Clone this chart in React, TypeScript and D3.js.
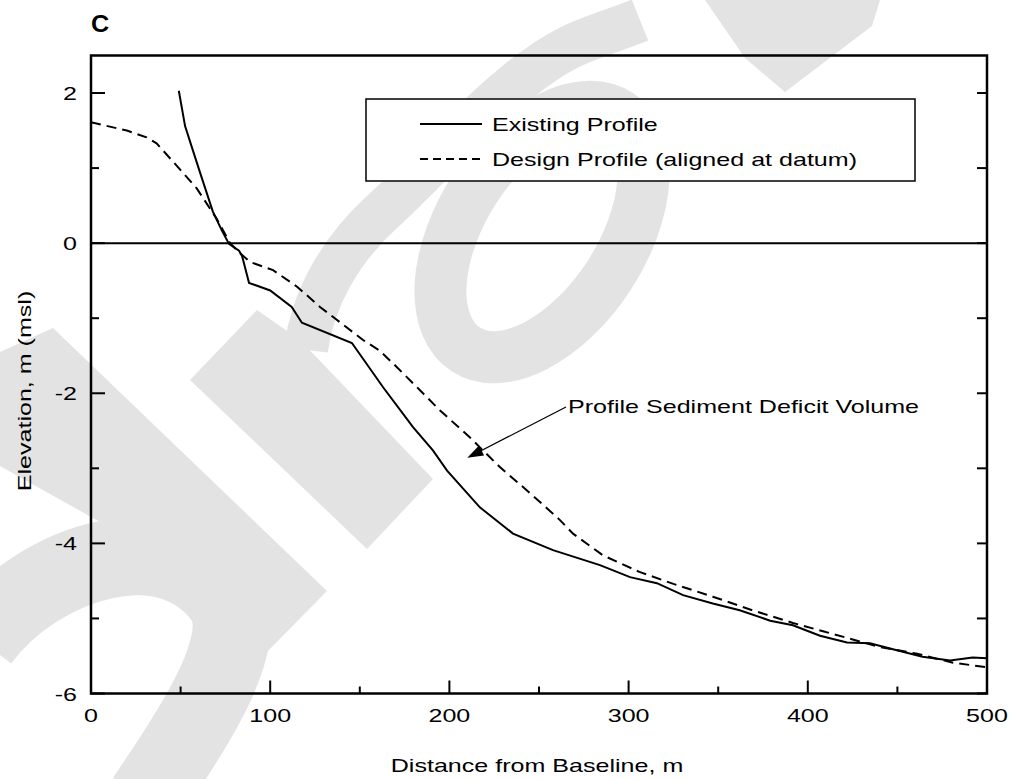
import React from "react";
import * as d3 from "d3";

// ---- data ----
const existingX = [49, 52.5, 56, 61, 68, 73, 77, 82.6, 84.3, 88.2, 100, 112, 117.7, 145.6, 163, 179.7, 190.8, 198.7, 217, 235.5, 257.8, 284, 300.8, 315.8, 330.4, 347, 362, 379, 391.7, 406.8, 421.9, 434.7, 447.5, 464, 479.4, 492, 500];
const existingY = [2.03, 1.56, 1.3, 0.93, 0.42, 0.17, -0.01, -0.1, -0.17, -0.53, -0.63, -0.85, -1.06, -1.33, -1.92, -2.45, -2.76, -3.03, -3.52, -3.87, -4.09, -4.29, -4.45, -4.53, -4.69, -4.8, -4.89, -5.03, -5.09, -5.23, -5.32, -5.33, -5.41, -5.51, -5.56, -5.52, -5.53];
const designX = [0, 20, 31, 36.6, 46, 59, 70, 77.6, 83, 88.7, 101.6, 115, 127.8, 151.8, 161, 170.6, 183.6, 194.8, 211.5, 228, 245, 261.7, 269, 285.7, 306, 325, 347, 369, 391.7, 408.5, 422, 440, 461, 481, 500];
const designY = [1.61, 1.5, 1.41, 1.33, 1.08, 0.73, 0.33, 0, -0.13, -0.25, -0.36, -0.58, -0.85, -1.29, -1.43, -1.65, -1.96, -2.23, -2.59, -2.98, -3.33, -3.69, -3.87, -4.16, -4.38, -4.54, -4.71, -4.89, -5.06, -5.17, -5.26, -5.38, -5.47, -5.59, -5.65];
const xMajorTicks = [0, 100, 200, 300, 400, 500];
const xMinorTicks = [50, 150, 250, 350, 450];
const yMajorTicks = [-6, -4, -2, 0, 2];
const yMinorTicks = [-5, -3, -1, 1];
const seriesLabels = ["Existing Profile", "Design Profile (aligned at datum)"];
const annotationText = "Profile Sediment Deficit Volume";
const annotationPoint = { x: 210, y: -2.86 };
const panelLabel = "C";
const xTitle = "Distance from Baseline, m";
const yTitle = "Elevation, m (msl)";

// decorative watermark (light gray brush strokes)
const watermarkFills = [
  "M0,352 L53,328 L327,591 L258,661 L100,522 L0,466 Z",
  "M190,380 L257,310 L300,340 L433,479 L367,549 Z",
  "M705,0 L880,0 L872,26 L785,92 L745,58 Z",
];
const watermarkStrokes = [
  { d: "M-20,640 C40,560 170,520 225,600 C250,640 200,720 145,800", w: 78 },
  { d: "M306,350 C312,300 340,250 383,211 S470,120 520,80 S590,40 640,20", w: 44 },
];

const FONT = "'Liberation Sans', Arial, Helvetica, sans-serif";
const SX = 1.32;

function T(props: { x: number; y: number; anchor?: string; size?: number; sx?: number; weight?: string | number; rotate?: boolean; children: React.ReactNode }) {
  const { x, y, anchor = "start", size = 19, sx = SX, weight = "normal", rotate = false, children } = props;
  return (
    <text
      transform={`translate(${x},${y})${rotate ? " rotate(-90)" : ""} scale(${sx},1)`}
      textAnchor={anchor}
      fontFamily={FONT}
      fontSize={size}
      fontWeight={weight}
      fill="#000"
    >
      {children}
    </text>
  );
}

export default function App() {
  const W = 1010, H = 779;
  const x = d3.scaleLinear().domain([0, 500]).range([91, 987]);
  const y = d3.scaleLinear().domain([-6, 2.5]).range([693.5, 55.5]);
  const line = d3.line<[number, number]>().x((d) => x(d[0])).y((d) => y(d[1]));
  const existing = existingX.map((v, i) => [v, existingY[i]] as [number, number]);
  const design = designX.map((v, i) => [v, designY[i]] as [number, number]);
  const [x0, x1] = x.range();
  const [yb, yt] = y.range();

  const ax = x(annotationPoint.x), ay = y(annotationPoint.y);
  const tx = 566, ty = 407;
  const ang = Math.atan2(ay - ty, ax - tx);
  const ah = 16, aw = 5.5;
  const head = [
    [ax, ay],
    [ax - ah * Math.cos(ang) + aw * Math.sin(ang), ay - ah * Math.sin(ang) - aw * Math.cos(ang)],
    [ax - ah * Math.cos(ang) - aw * Math.sin(ang), ay - ah * Math.sin(ang) + aw * Math.cos(ang)],
  ];

  return (
    <svg width={W} height={H} style={{ position: "absolute", left: 0, top: 0, background: "#fff" }}>
      <rect x={0} y={0} width={W} height={H} fill="#fff" />
      {/* watermark */}
      <g fill="#e3e3e3" stroke="none">
        {watermarkFills.map((d, i) => <path key={i} d={d} />)}
      </g>
      <g fill="none" stroke="#e3e3e3">
        {watermarkStrokes.map((s, i) => <path key={i} d={s.d} strokeWidth={s.w} />)}
      </g>
      <ellipse cx={542} cy={232} rx={80} ry={140} transform="rotate(33,542,232)" fill="none" stroke="#e3e3e3" strokeWidth={52} />

      {/* zero line */}
      <line x1={x0} x2={x1} y1={y(0)} y2={y(0)} stroke="#000" strokeWidth={2} />

      {/* series */}
      <path d={line(design) || ""} fill="none" stroke="#000" strokeWidth={2} strokeDasharray="10,6" />
      <path d={line(existing) || ""} fill="none" stroke="#000" strokeWidth={2} />

      {/* frame */}
      <rect x={x0} y={yt} width={x1 - x0} height={yb - yt} fill="none" stroke="#000" strokeWidth={2.5} />

      {/* ticks */}
      {xMajorTicks.map((t) => (
        <g key={"xm" + t}>
          <line x1={x(t)} x2={x(t)} y1={yb} y2={yb - 13} stroke="#000" strokeWidth={2} />
          <T x={x(t)} y={722} anchor="middle">{String(t)}</T>
        </g>
      ))}
      {xMinorTicks.map((t) => (
        <line key={"xn" + t} x1={x(t)} x2={x(t)} y1={yb} y2={yb - 7} stroke="#000" strokeWidth={2} />
      ))}
      {yMajorTicks.map((t) => (
        <g key={"ym" + t}>
          <line x1={x0} x2={x0 + 14} y1={y(t)} y2={y(t)} stroke="#000" strokeWidth={2} />
          <line x1={x1} x2={x1 - 10} y1={y(t)} y2={y(t)} stroke="#000" strokeWidth={2} />
          <T x={77} y={y(t) + 7} anchor="end">{String(t)}</T>
        </g>
      ))}
      {yMinorTicks.map((t) => (
        <g key={"yn" + t}>
          <line x1={x0} x2={x0 + 8} y1={y(t)} y2={y(t)} stroke="#000" strokeWidth={2} />
          <line x1={x1} x2={x1 - 10} y1={y(t)} y2={y(t)} stroke="#000" strokeWidth={2} />
        </g>
      ))}

      {/* legend */}
      <rect x={366} y={99} width={549} height={82} fill="#fff" stroke="#000" strokeWidth={1.5} />
      <line x1={420} x2={482} y1={124} y2={124} stroke="#000" strokeWidth={2} />
      <T x={492} y={131}>{seriesLabels[0]}</T>
      <line x1={420} x2={482} y1={159} y2={159} stroke="#000" strokeWidth={2} strokeDasharray="8,5" />
      <T x={492} y={166}>{seriesLabels[1]}</T>

      {/* annotation */}
      <line x1={tx} y1={ty} x2={ax - 10 * Math.cos(ang)} y2={ay - 10 * Math.sin(ang)} stroke="#000" strokeWidth={1.3} />
      <polygon points={head.map((p) => p.join(",")).join(" ")} fill="#000" />
      <T x={568} y={413}>{annotationText}</T>

      {/* titles */}
      <T x={91} y={32} size={24} sx={1.05} weight="bold">{panelLabel}</T>
      <T x={537} y={772} anchor="middle">{xTitle}</T>
      <T x={31} y={391} anchor="middle" rotate>{yTitle}</T>
    </svg>
  );
}
